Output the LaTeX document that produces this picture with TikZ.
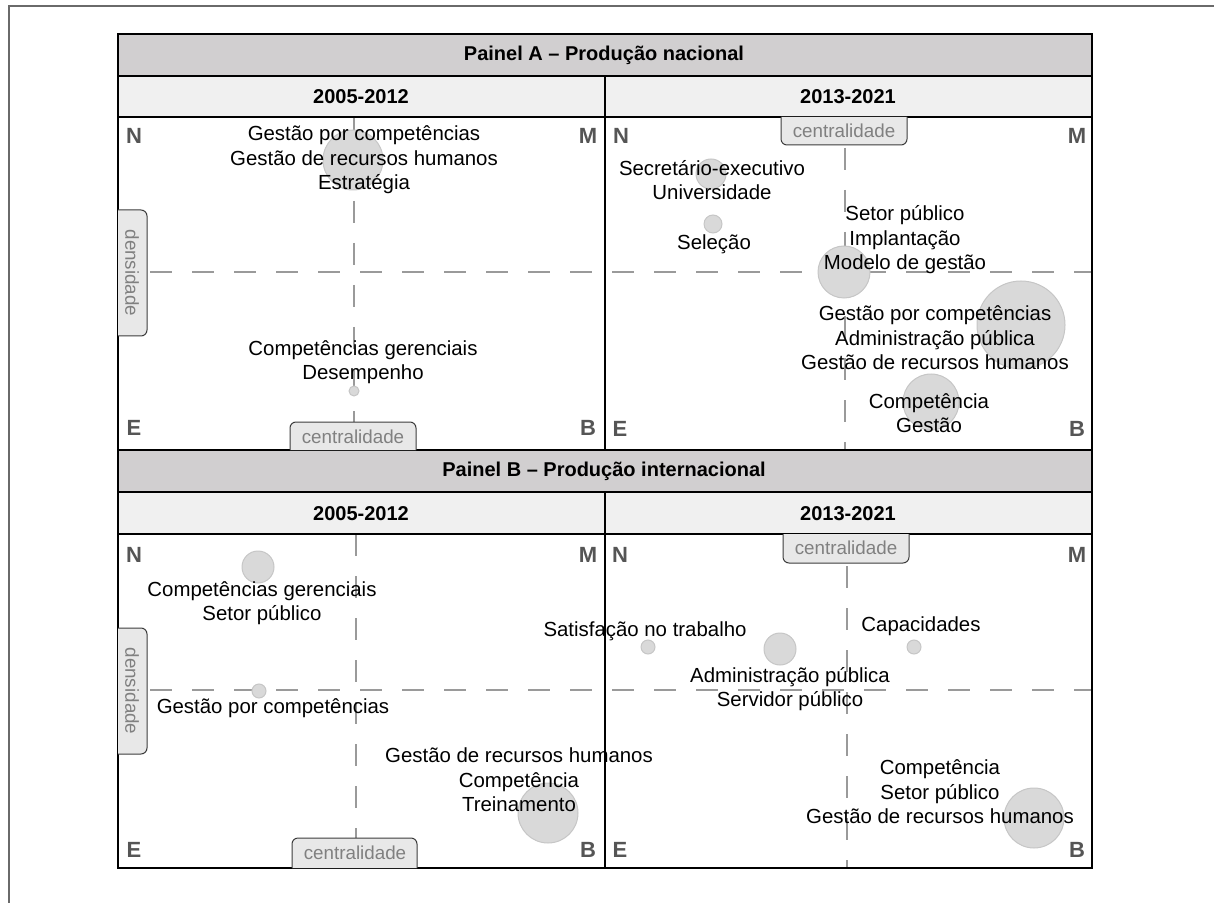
\documentclass[tikz,border=0pt]{standalone}
\usepackage{fontspec}
\setmainfont{Liberation Sans}
\usepackage{xcolor}
\usepackage{tikz}

\definecolor{titlegray}{HTML}{D1CFD0}
\definecolor{yeargray}{HTML}{F0F0F0}
\definecolor{bubblefill}{HTML}{D9D9D9}
\definecolor{bubbleedge}{HTML}{C6C6C6}
\definecolor{tabfill}{HTML}{E8E8E8}
\definecolor{tabedge}{HTML}{3C3C3C}
\definecolor{lettergray}{HTML}{555555}
\definecolor{axisgray}{HTML}{9A9A9A}
\definecolor{framegray}{HTML}{6A6A6A}

\begin{document}
\begin{tikzpicture}[x=0.5pt, y=-0.5pt,
        term/.style={font=\fontsize{10.2}{12.25}\selectfont, align=center, inner sep=0pt},
        head/.style={font=\fontsize{10}{12}\selectfont\bfseries, inner sep=0pt},
        corner/.style={font=\fontsize{11}{12}\selectfont\bfseries, text=lettergray, inner sep=0pt},
        tablabel/.style={font=\fontsize{9.4}{11}\selectfont, text=gray, inner sep=0pt},
        tab/.style={fill=tabfill, draw=tabedge, line width=0.5pt, rounded corners=3pt},
        bubble/.style={fill=bubblefill, draw=bubbleedge, line width=0.5pt},
        axis/.style={draw=axisgray, line width=0.7pt, dash pattern=on 11pt off 10pt},
        grid/.style={draw=black, line width=0.75pt}]
        \useasboundingbox (0,0) rectangle (1214,903);
        \draw[framegray, line width=0.6pt] (9,903) -- (9,6) -- (1214,6);

        \fill[titlegray] (118,34) rectangle (1092,76);
        \fill[yeargray] (118,76) rectangle (1092,117);
        \fill[titlegray] (118,450) rectangle (1092,492);
        \fill[yeargray] (118,492) rectangle (1092,534);

        \draw[axis] (354,117) -- (354,422);
        \draw[axis] (150,272) -- (1092,272);
        \draw[axis] (845,148) -- (845,450);
        \draw[axis] (356,534) -- (356,838);
        \draw[axis] (150,690) -- (1092,690);
        \draw[axis] (847,566) -- (847,868);

        \draw[bubble] (353,160) circle (30);
        \draw[bubble] (354,391) circle (5);
        \draw[bubble] (711,174) circle (15);
        \draw[bubble] (713,224) circle (9);
        \draw[bubble] (844,272) circle (26);
        \draw[bubble] (1021,325) circle (44);
        \draw[bubble] (931,402) circle (28);
        \draw[bubble] (258,567) circle (16);
        \draw[bubble] (259,691) circle (7);
        \draw[bubble] (548,813) circle (30);
        \draw[bubble] (648,647) circle (7);
        \draw[bubble] (780,649) circle (16);
        \draw[bubble] (914,647) circle (7);
        \draw[bubble] (1034,818) circle (30);

        \draw[grid] (118,76) -- (1092,76);
        \draw[grid] (118,117) -- (1092,117);
        \draw[grid] (605,76) -- (605,450);
        \draw[grid] (118,492) -- (1092,492);
        \draw[grid] (118,534) -- (1092,534);
        \draw[grid] (605,492) -- (605,868);
        \draw[black, line width=1.2pt] (118,450) -- (1092,450);
        \draw[black, line width=1.2pt] (118,34) rectangle (1092,868);

        \draw[tab] (290,450) -- (290,422) -- (416,422) -- (416,450);
        \draw[tab] (118,210) -- (147,210) -- (147,336) -- (118,336);
        \draw[tab] (781,117) -- (781,145) -- (907,145) -- (907,117);
        \draw[tab] (292,868) -- (292,838) -- (417,838) -- (417,868);
        \draw[tab] (118,628) -- (147,628) -- (147,754) -- (118,754);
        \draw[tab] (783,534) -- (783,563) -- (909,563) -- (909,534);
        \node[tablabel] (centAL) at (353,437) {centralidade};
        \node[tablabel, rotate=-90] (densAL) at (132,273) {densidade};
        \node[tablabel] (centAR) at (844,131) {centralidade};
        \node[tablabel] (centBL) at (355,853) {centralidade};
        \node[tablabel, rotate=-90] (densBL) at (132,691) {densidade};
        \node[tablabel] (centBR) at (846,548) {centralidade};

        \node[head] (titA) at (604,55) {Painel A – Produção nacional};
        \node[head] (yearAL) at (361,97) {2005-2012};
        \node[head] (yearAR) at (848,97) {2013-2021};
        \node[head] (titB) at (604,471) {Painel B – Produção internacional};
        \node[head] (yearBL) at (361,514) {2005-2012};
        \node[head] (yearBR) at (848,514) {2013-2021};

        \node[corner] (nAL) at (134,136) {N};
        \node[corner] (mAL) at (588,136) {M};
        \node[corner] (eAL) at (134,428) {E};
        \node[corner] (bAL) at (588,428) {B};
        \node[corner] (nAR) at (621,136) {N};
        \node[corner] (mAR) at (1077,136) {M};
        \node[corner] (eAR) at (620,429) {E};
        \node[corner] (bAR) at (1077,429) {B};
        \node[corner] (nBL) at (134,555) {N};
        \node[corner] (mBL) at (588,555) {M};
        \node[corner] (eBL) at (134,850) {E};
        \node[corner] (bBL) at (588,850) {B};
        \node[corner] (nBR) at (620,555) {N};
        \node[corner] (mBR) at (1077,555) {M};
        \node[corner] (eBR) at (620,850) {E};
        \node[corner] (bBR) at (1077,850) {B};

        \node[term] (gestaoAL) at (364,160) {Gestão por competências\\Gestão de recursos humanos\\Estratégia};
        \node[term] (gerenAL) at (363,362) {Competências gerenciais\\Desempenho};
        \node[term] (secrAR) at (712,180) {Secretário-executivo\\Universidade};
        \node[term] (selecAR) at (714,244) {Seleção};
        \node[term] (setorAR) at (905,240) {Setor público\\Implantação\\Modelo de gestão};
        \node[term] (admAR) at (935,338) {Gestão por competências\\Administração pública\\Gestão de recursos humanos};
        \node[term] (compAR) at (929,413) {Competência\\Gestão};
        \node[term] (gerenBL) at (262,603) {Competências gerenciais\\Setor público};
        \node[term] (gestaoBL) at (273,708) {Gestão por competências};
        \node[term] (rhBL) at (519,780) {Gestão de recursos humanos\\Competência\\Treinamento};
        \node[term] (satisBR) at (645,631) {Satisfação no trabalho};
        \node[term] (capacBR) at (921,626) {Capacidades};
        \node[term] (admBR) at (790,689) {Administração pública\\Servidor público};
        \node[term] (compBR) at (940,792) {Competência\\Setor público\\Gestão de recursos humanos};
    \end{tikzpicture}
\end{document}
